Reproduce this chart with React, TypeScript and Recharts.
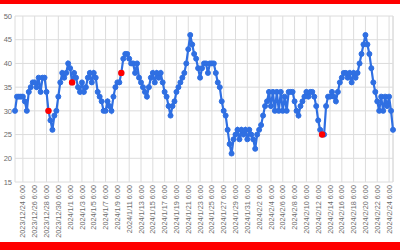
import React from 'react';
import { LineChart, Line, XAxis, YAxis, CartesianGrid, ReferenceLine } from 'recharts';

// one reading every 8 hours, starting 2023/12/22 22:00
const values = [
  30, 33, 33, 33, 33, 32, 30, 34, 35, 36,
  36, 35, 37, 34, 37, 37, 34, 30, 28, 26,
  29, 30, 33, 36, 38, 37, 38, 40, 39, 36,
  38, 37, 35, 34, 36, 34, 35, 37, 38, 36,
  38, 37, 34, 33, 32, 30, 30, 32, 31, 30,
  33, 35, 36, 36, 38, 41, 42, 42, 41, 40,
  40, 38, 40, 37, 36, 35, 34, 33, 35, 37,
  38, 36, 38, 37, 38, 36, 34, 33, 31, 29,
  31, 32, 34, 35, 36, 37, 38, 40, 43, 46,
  44, 42, 41, 39, 37, 39, 40, 40, 38, 40,
  40, 40, 38, 36, 35, 32, 30, 29, 26, 23,
  21, 24, 25, 26, 24, 26, 25, 26, 24, 26,
  25, 24, 22, 25, 26, 27, 29, 31, 32, 34,
  31, 34, 30, 34, 30, 34, 30, 33, 30, 34,
  34, 34, 32, 30, 29, 31, 32, 33, 34, 33,
  34, 34, 33, 31, 28, 26, 25, 25, 31, 33,
  33, 34, 33, 32, 34, 36, 37, 38, 38, 37,
  38, 36, 38, 37, 38, 40, 42, 44, 46, 44,
  42, 39, 36, 34, 32, 30, 33, 30, 33, 31,
  33, 30, 26,
];

// points drawn in red
const highlighted = [17, 29, 54, 156];

const tickLabels = [
  '2023/12/24 6:00', '2023/12/26 6:00', '2023/12/28 6:00', '2023/12/30 6:00',
  '2024/1/1 6:00', '2024/1/3 6:00', '2024/1/5 6:00', '2024/1/7 6:00',
  '2024/1/9 6:00', '2024/1/11 6:00', '2024/1/13 6:00', '2024/1/15 6:00',
  '2024/1/17 6:00', '2024/1/19 6:00', '2024/1/21 6:00', '2024/1/23 6:00',
  '2024/1/25 6:00', '2024/1/27 6:00', '2024/1/29 6:00', '2024/1/31 6:00',
  '2024/2/2 6:00', '2024/2/4 6:00', '2024/2/6 6:00', '2024/2/8 6:00',
  '2024/2/10 6:00', '2024/2/12 6:00', '2024/2/14 6:00', '2024/2/16 6:00',
  '2024/2/18 6:00', '2024/2/20 6:00', '2024/2/22 6:00', '2024/2/24 6:00',
];

// index of the first labelled reading, and readings per label step (2 days)
const firstTickIndex = 4;
const tickStep = 6;

const yTicks = [15, 20, 25, 30, 35, 40, 45, 50];

const data = values.map((v, i) => ({
  i,
  value: v,
  red: highlighted.includes(i) ? v : null,
}));

const xTicks = tickLabels.map((_, k) => firstTickIndex + k * tickStep);

const BLUE = '#2f6fe2';
const GRID = '#dcdcdc';
const TEXT = '#6b6b6b';
const FONT = '"Liberation Sans", Arial, sans-serif';

const DateTick = ({ x, y, payload }: any) => {
  const k = Math.round((payload.value - firstTickIndex) / tickStep);
  return (
    <g transform={`translate(${x},${y})`}>
      <text
        transform="rotate(-90)"
        x={-3}
        y={0}
        dy="0.35em"
        textAnchor="end"
        fontSize={7.3}
        fill={TEXT}
        fontFamily={FONT}
      >
        {tickLabels[k]}
      </text>
    </g>
  );
};

export default function App() {
  return (
    <div style={{ position: 'fixed', top: 0, left: 0, width: 400, height: 250, background: '#fff' }}>
      <LineChart
        width={400}
        height={250}
        data={data}
        margin={{ top: 16, right: 7, left: 0, bottom: 0 }}
      >
        <CartesianGrid stroke={GRID} strokeWidth={1} />
        <XAxis
          type="number"
          dataKey="i"
          domain={[0, values.length - 1]}
          ticks={xTicks}
          interval={0}
          tick={<DateTick />}
          tickSize={0}
          tickMargin={0}
          axisLine={false}
          tickLine={false}
          height={68}
        />
        <YAxis
          domain={[15, 50]}
          ticks={yTicks}
          width={15}
          tickSize={0}
          tickMargin={3}
          axisLine={false}
          tickLine={false}
          tick={{ fontSize: 7.5, fill: TEXT, fontFamily: FONT }}
        />
        <ReferenceLine x={values.length - 1} stroke={GRID} />
        <Line
          type="linear"
          dataKey="value"
          stroke={BLUE}
          strokeWidth={2.2}
          dot={{ r: 2.5, fill: BLUE, stroke: BLUE, strokeWidth: 1 }}
          isAnimationActive={false}
        />
        <Line
          type="linear"
          dataKey="red"
          stroke="none"
          dot={{ r: 3.2, fill: '#ff0000', stroke: 'none' }}
          isAnimationActive={false}
        />
      </LineChart>
      <div style={{ position: 'absolute', top: 0, left: 0, width: 400, height: 4, background: '#ff0000' }} />
      <div style={{ position: 'absolute', top: 242, left: 0, width: 400, height: 8, background: '#ff0000' }} />
    </div>
  );
}
